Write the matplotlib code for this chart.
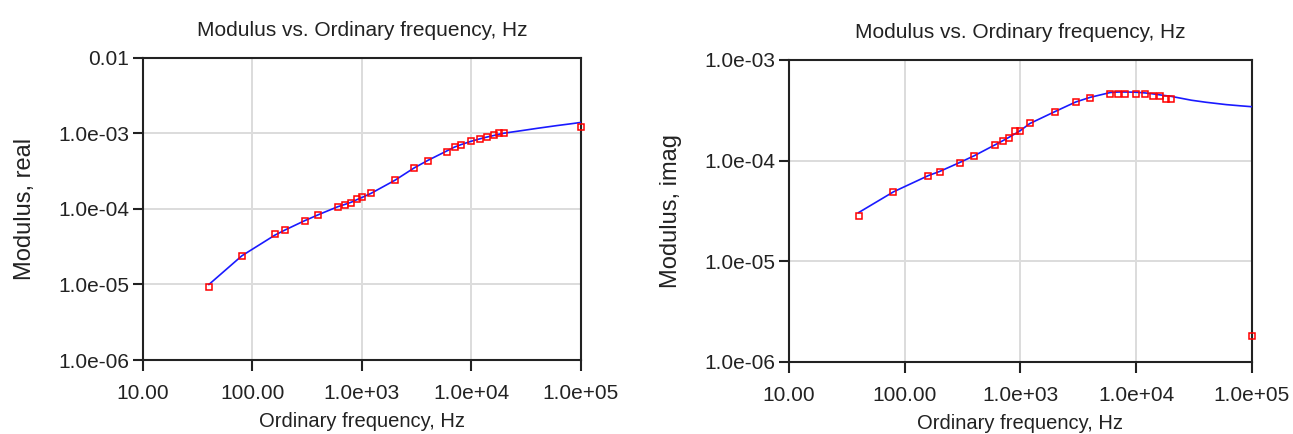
import matplotlib.pyplot as plt
from matplotlib.ticker import FixedLocator, NullLocator

plt.rcParams['font.family'] = ['Liberation Sans', 'DejaVu Sans']

# measured frequencies, Hz
freq = [40, 80, 160, 200, 300, 400, 600, 700, 800, 900, 1000, 1200, 2000,
        3000, 4000, 6000, 7000, 8000, 10000, 12000, 14000, 16000, 18000,
        20000, 100000]

real_meas = [9.4e-6, 2.41e-5, 4.65e-5, 5.3e-5, 7.0e-5, 8.3e-5, 1.06e-4,
             1.13e-4, 1.2e-4, 1.34e-4, 1.43e-4, 1.61e-4, 2.43e-4, 3.46e-4,
             4.37e-4, 5.6e-4, 6.7e-4, 7.0e-4, 7.9e-4, 8.4e-4, 8.95e-4,
             9.5e-4, 1.0e-3, 1.01e-3, 1.2e-3]

imag_meas = [2.85e-5, 4.87e-5, 6.98e-5, 7.65e-5, 9.5e-5, 1.10e-4, 1.42e-4,
             1.56e-4, 1.69e-4, 1.95e-4, 1.97e-4, 2.35e-4, 3.05e-4, 3.80e-4,
             4.14e-4, 4.64e-4, 4.64e-4, 4.64e-4, 4.64e-4, 4.64e-4, 4.38e-4,
             4.38e-4, 4.12e-4, 4.12e-4, 1.83e-6]

# fitted model curve
freq_fit = [40, 80, 160, 200, 300, 400, 600, 700, 800, 900, 1000, 1200, 2000,
            3000, 4000, 6000, 7000, 8000, 10000, 12000, 14000, 16000, 18000,
            20000, 30000, 40000, 60000, 80000, 100000]

real_fit = [1.0e-5, 2.4e-5, 4.5e-5, 5.3e-5, 7.0e-5, 8.4e-5, 1.07e-4, 1.15e-4,
            1.23e-4, 1.33e-4, 1.42e-4, 1.6e-4, 2.4e-4, 3.5e-4, 4.4e-4, 5.9e-4,
            6.6e-4, 7.1e-4, 7.9e-4, 8.5e-4, 9.0e-4, 9.4e-4, 9.8e-4, 1.01e-3,
            1.1e-3, 1.17e-3, 1.27e-3, 1.34e-3, 1.40e-3]

imag_fit = [3.05e-5, 4.9e-5, 7.1e-5, 7.8e-5, 9.6e-5, 1.12e-4, 1.43e-4,
            1.57e-4, 1.71e-4, 1.85e-4, 1.99e-4, 2.33e-4, 3.08e-4, 3.82e-4,
            4.25e-4, 4.75e-4, 4.8e-4, 4.8e-4, 4.78e-4, 4.7e-4, 4.6e-4, 4.5e-4,
            4.42e-4, 4.35e-4, 3.98e-4, 3.8e-4, 3.6e-4, 3.5e-4, 3.43e-4]

x_ticks = [10, 100, 1e3, 1e4, 1e5]
x_labels = ['10.00', '100.00', '1.0e+03', '1.0e+04', '1.0e+05']

left_y_ticks = [1e-6, 1e-5, 1e-4, 1e-3, 1e-2]
left_y_labels = ['1.0e-06', '1.0e-05', '1.0e-04', '1.0e-03', '0.01']

right_y_ticks = [1e-6, 1e-5, 1e-4, 1e-3]
right_y_labels = ['1.0e-06', '1.0e-05', '1.0e-04', '1.0e-03']

title = 'Modulus vs. Ordinary frequency, Hz'
xlabel = 'Ordinary frequency, Hz'


def draw(ax, fit, meas, yticks, ylabels, ylabel):
    ax.plot(freq_fit, fit, color='#1a1aff', lw=1.2, zorder=3)
    ax.plot(freq, meas, ls='none', marker='s', ms=4.5, mfc='none',
            mec='#ff0000', mew=1.1, zorder=4, clip_on=False)
    ax.set_xscale('log')
    ax.set_yscale('log')
    ax.set_xlim(10, 1e5)
    ax.set_ylim(yticks[0], yticks[-1])
    ax.xaxis.set_major_locator(FixedLocator(x_ticks))
    ax.xaxis.set_minor_locator(NullLocator())
    ax.set_xticklabels(x_labels)
    ax.yaxis.set_major_locator(FixedLocator(yticks))
    ax.yaxis.set_minor_locator(NullLocator())
    ax.set_yticklabels(ylabels)
    ax.grid(True, color='#dcdcdc', lw=1.4)
    ax.set_axisbelow(True)
    for s in ax.spines.values():
        s.set_linewidth(1.5)
        s.set_color('#222222')
    ax.tick_params(axis='x', direction='out', length=8, width=1.5,
                   labelsize=15, pad=9, colors='#222222')
    ax.tick_params(axis='y', direction='out', length=7, width=1.5,
                   labelsize=15, pad=3, colors='#222222')
    ax.set_title(title, fontsize=15, pad=15.5, color='#222222')
    ax.set_xlabel(xlabel, fontsize=14.5, labelpad=7, color='#222222')
    ax.set_ylabel(ylabel, fontsize=17, labelpad=16, color='#222222')


fig = plt.figure(figsize=(12.93, 4.34), dpi=100)
ax1 = fig.add_axes([0.1106, 0.1705, 0.3387, 0.696])
ax2 = fig.add_axes([0.6102, 0.1659, 0.358, 0.696])

draw(ax1, real_fit, real_meas, left_y_ticks, left_y_labels, 'Modulus, real')
draw(ax2, imag_fit, imag_meas, right_y_ticks, right_y_labels, 'Modulus, imag')

fig.savefig('out.png', dpi=100)
